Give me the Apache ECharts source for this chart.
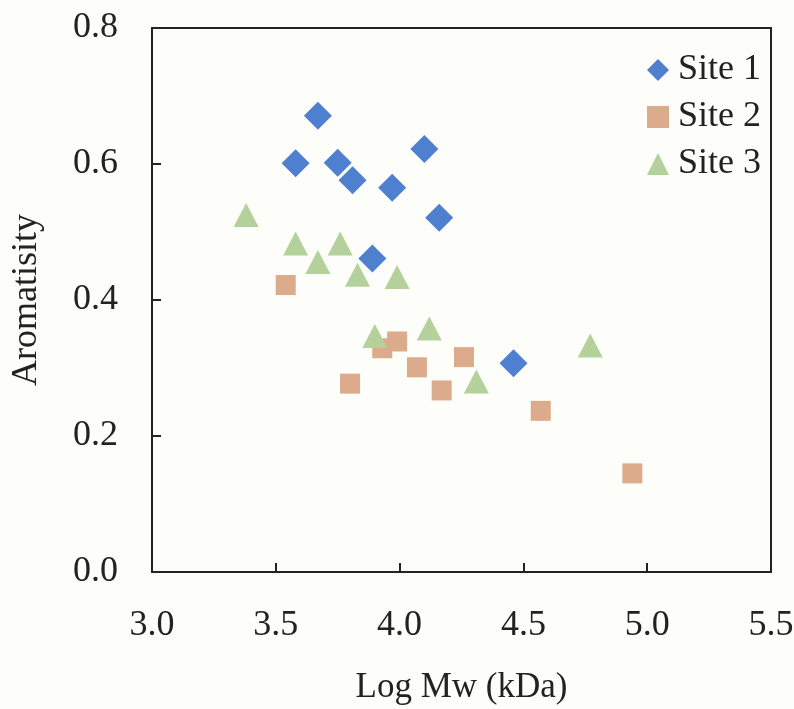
<!DOCTYPE html>
<html>
<head>
<meta charset="utf-8">
<script src="https://cdn.jsdelivr.net/npm/echarts@6/dist/echarts.min.js"></script>
<style>
html,body{margin:0;padding:0;background:#fdfdf9;}
#c{width:794px;height:709px;}
</style>
</head>
<body>
<div id="c"></div>
<script>
// Data: [Log Mw, Aromatisity]
var site1 = [[3.58,0.601],[3.67,0.671],[3.75,0.602],[3.81,0.576],[3.97,0.565],[4.10,0.622],[4.16,0.521],[3.89,0.461],[4.46,0.307]];
var site2 = [[3.54,0.422],[3.80,0.277],[3.93,0.329],[3.99,0.339],[4.07,0.301],[4.17,0.267],[4.26,0.316],[4.57,0.237],[4.94,0.145]];
var site3 = [[3.38,0.525],[3.58,0.483],[3.67,0.456],[3.76,0.483],[3.83,0.437],[3.99,0.434],[3.90,0.347],[4.12,0.358],[4.31,0.280],[4.77,0.333]];
var seriesNames = ['Site 1','Site 2','Site 3'];
var xTicks = [3.0,3.5,4.0,4.5,5.0,5.5];
var yTicks = [0.0,0.2,0.4,0.6,0.8];

var FONT = '"Liberation Serif", "Times New Roman", serif';
var TXT = '#222';
var chart = echarts.init(document.getElementById('c'), null, {renderer:'canvas'});
chart.setOption({
  backgroundColor:'#fdfdf9',
  animation:false,
  grid:{left:152, top:28, right:23, bottom:137, containLabel:false, outerBoundsMode:'none', show:true, borderColor:'#222', borderWidth:2, backgroundColor:'transparent'},
  legend:{
    orient:'vertical', left:642, top:47, itemGap:11, itemWidth:22, itemHeight:22,
    textStyle:{fontFamily:FONT, fontSize:36, color:TXT, padding:[0,0,0,4]},
    data:[
      {name:seriesNames[0], icon:'diamond'},
      {name:seriesNames[1], icon:'rect'},
      {name:seriesNames[2], icon:'triangle'}
    ]
  },
  xAxis:{
    type:'value', min:xTicks[0], max:xTicks[xTicks.length-1], interval:0.5,
    name:'Log Mw (kDa)', nameLocation:'middle', nameGap:98,
    nameTextStyle:{fontFamily:FONT, fontSize:35, color:TXT},
    axisLine:{show:true, lineStyle:{color:'#222', width:2}},
    axisTick:{show:true, inside:true, length:9, lineStyle:{color:'#222', width:2}},
    axisLabel:{fontFamily:FONT, fontSize:36, color:TXT, margin:36, formatter:function(v){return v.toFixed(1);}},
    splitLine:{show:false}
  },
  yAxis:{
    type:'value', min:yTicks[0], max:yTicks[yTicks.length-1], interval:0.2,
    name:'Aromatisity', nameLocation:'middle', nameGap:107, nameRotate:90,
    nameTextStyle:{fontFamily:FONT, fontSize:36, color:TXT},
    axisLine:{show:true, lineStyle:{color:'#222', width:2}},
    axisTick:{show:true, inside:true, length:9, lineStyle:{color:'#222', width:2}},
    axisLabel:{fontFamily:FONT, fontSize:36, color:TXT, margin:34, formatter:function(v){return v.toFixed(1);}},
    splitLine:{show:false}
  },
  series:[
    {name:seriesNames[0], type:'scatter', symbol:'diamond', symbolSize:[28,28], itemStyle:{color:'#4f80cf', opacity:1}, data:site1, z:3},
    {name:seriesNames[1], type:'scatter', symbol:'rect', symbolSize:[20,20], itemStyle:{color:'#dcab8c', opacity:1}, data:site2, z:2},
    {name:seriesNames[2], type:'scatter', symbol:'triangle', symbolSize:[25,24], itemStyle:{color:'#b5d19b', opacity:1}, data:site3, z:4}
  ]
});
</script>
</body>
</html>
